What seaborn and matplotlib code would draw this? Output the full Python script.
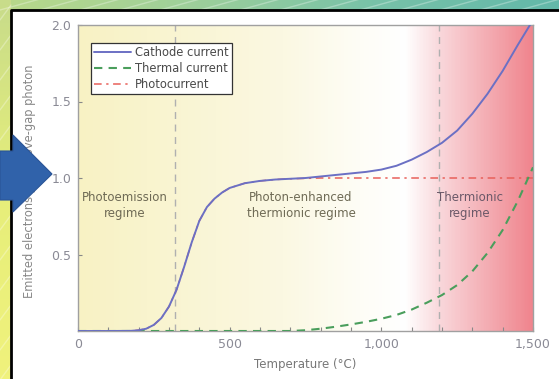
import numpy as np
import pandas as pd
import matplotlib
matplotlib.use("Agg")
import matplotlib.pyplot as plt
from matplotlib.patches import Polygon
from matplotlib.colors import LinearSegmentedColormap
import seaborn as sns

# ---- data ----
temps = [0, 100, 175, 200, 225, 250, 275, 300, 325, 350, 375, 400, 425, 450, 475, 500,
         550, 600, 650, 700, 750, 800, 850, 900, 950, 1000, 1050, 1100, 1150, 1200,
         1250, 1300, 1350, 1400, 1450, 1490]
cathode = [0.0, 0.0, 0.001, 0.005, 0.015, 0.04, 0.085, 0.16, 0.27, 0.42, 0.58, 0.72,
           0.81, 0.865, 0.905, 0.935, 0.966, 0.981, 0.99, 0.995, 1.0, 1.01, 1.02,
           1.03, 1.04, 1.055, 1.08, 1.12, 1.17, 1.23, 1.31, 1.42, 1.55, 1.70, 1.87, 2.0]

therm_temps = [0, 100, 200, 300, 400, 500, 600, 700, 750, 800, 850, 900, 950, 1000,
               1050, 1100, 1150, 1200, 1250, 1300, 1350, 1400, 1450, 1500]
thermal = [0, 0, 0, 0, 0, 0, 0, 0, 0.005, 0.015, 0.028, 0.043, 0.06, 0.08, 0.105,
           0.14, 0.185, 0.235, 0.30, 0.39, 0.51, 0.66, 0.85, 1.07]

photo_temps = [0, 100, 175, 200, 225, 250, 275, 300, 325, 350, 375, 400, 425, 450,
               475, 500, 550, 600, 650, 700, 800, 1000, 1200, 1400, 1500]
photo = [0.0, 0.0, 0.001, 0.005, 0.015, 0.04, 0.085, 0.16, 0.27, 0.42, 0.58, 0.72,
         0.81, 0.865, 0.905, 0.935, 0.966, 0.981, 0.99, 0.995, 1.0, 1.0, 1.0, 1.0, 1.0]

regime_bounds = [320, 1190]
regime_labels = ["Photoemission\nregime", "Photon-enhanced\nthermionic regime",
                 "Thermionic\nregime"]
regime_x = [155, 735, 1292]
x_ticks = [0, 500, 1000, 1500]
x_ticklabels = ["0", "500", "1,000", "1,500"]
y_ticks = [0.5, 1.0, 1.5, 2.0]
y_ticklabels = ["0.5", "1.0", "1.5", "2.0"]

sns.set_style("white")
plt.rcParams['font.family'] = ['DejaVu Sans']

W, H = 559, 379
fig = plt.figure(figsize=(W / 100, H / 100), dpi=100)

# ---- slide background ----
bg = fig.add_axes([0, 0, 1, 1], zorder=-5)
bg.axis("off")
top_cmap = LinearSegmentedColormap.from_list("top", ["#b9d98a", "#9fd09a", "#78c2a8", "#63b8aa"])
bg.imshow(np.linspace(0, 1, 200)[None, :], cmap=top_cmap, extent=[0, W, 10, 0],
          aspect="auto", zorder=1)
left_cmap = LinearSegmentedColormap.from_list("left", ["#c8dc8a", "#e6ee7a", "#f0f27c"])
bg.imshow(np.linspace(0, 1, 100)[:, None], cmap=left_cmap, extent=[0, 11, H, 0],
          aspect="auto", zorder=1)
for k in range(-20, 60, 4):
    bg.plot([k * 10, k * 10 + 40], [10, -1], color="white", alpha=0.3, lw=1, zorder=2)
for k in range(0, 40, 3):
    bg.plot([0, 11], [k * 10 + 20, k * 10 + 5], color="white", alpha=0.3, lw=1, zorder=2)
bg.plot([11, 11, W], [H, 10, 10], color="black", lw=2, zorder=3)
bg.set_xlim(0, W)
bg.set_ylim(H, 0)

# ---- main axes ----
ax = fig.add_axes([78 / W, 1 - 331 / H, (533 - 78) / W, (331 - 25) / H])

grad_cmap = LinearSegmentedColormap.from_list(
    "grad",
    [(0.0, "#f8f2c4"), (0.45, "#fbf8e2"), (0.62, "#fefdf6"), (0.72, "#ffffff"),
     (0.80, "#f9d6da"), (0.9, "#f4aeb4"), (1.0, "#f0858e")])
ax.imshow(np.linspace(0, 1, 400)[None, :], cmap=grad_cmap, extent=[0, 1500, 0, 2.0],
          aspect="auto", zorder=0)

for xb in regime_bounds:
    ax.axvline(xb, color="#b0b0b0", lw=1, ls=(0, (5, 4)), zorder=1)

sns.lineplot(x=photo_temps, y=photo, ax=ax, color="#e8605a", lw=1.1,
             label="Photocurrent", zorder=2)
sns.lineplot(x=therm_temps, y=thermal, ax=ax, color="#4a9e5c", lw=1.5,
             label="Thermal current", zorder=3)
sns.lineplot(x=temps, y=cathode, ax=ax, color="#6b70c4", lw=1.4,
             label="Cathode current", zorder=4)
lines = ax.get_lines()
lines[-3].set_dashes([5, 3, 1.5, 3])
lines[-2].set_dashes([4, 3])

ax.set_xlim(0, 1500)
ax.set_ylim(0, 2.0)

h, l = ax.get_legend_handles_labels()
order = [l.index("Cathode current"), l.index("Thermal current"), l.index("Photocurrent")]
leg = ax.legend([h[i] for i in order], [l[i] for i in order], loc="upper left",
                bbox_to_anchor=(0.028, 0.942), borderaxespad=0, fontsize=8.3,
                frameon=True, fancybox=False, handlelength=3.2, handletextpad=0.3,
                labelspacing=0.25, borderpad=0.3, labelcolor="#4a4a4a")
leg.get_frame().set_edgecolor("#333333")
leg.get_frame().set_linewidth(0.9)
leg.get_frame().set_facecolor("white")
leg.get_frame().set_alpha(1)

colors = ["#6e6a55", "#6e6a55", "#6a5868"]
for lab, xx, cc in zip(regime_labels, regime_x, colors):
    ax.text(xx, 0.82, lab, ha="center", va="center", fontsize=8.5, color=cc,
            linespacing=1.35, zorder=5)

ax.set_xticks(x_ticks)
ax.set_xticklabels(x_ticklabels)
ax.set_xticks(range(0, 1501, 100), minor=True)
ax.set_yticks(y_ticks)
ax.set_yticklabels(y_ticklabels)
ax.tick_params(axis="both", which="major", direction="in", length=3, width=0.8,
               color="#888888", labelsize=9, labelcolor="#8a8a95", pad=5)
ax.tick_params(axis="x", which="minor", direction="in", length=3, width=0.8,
               color="#888888", bottom=True)
ax.tick_params(axis="x", which="both", bottom=True, top=False)
ax.tick_params(axis="y", which="both", left=True, right=False)
for s in ax.spines.values():
    s.set_color("#a0a0a0")
    s.set_linewidth(1.0)

ax.set_xlabel("Temperature (°C)", fontsize=8.5, color="#777777", labelpad=5)
ax.set_ylabel("Emitted electrons per above-gap photon", fontsize=8.3, color="#888888")
ax.yaxis.set_label_coords(-0.092, 0.49)

# ---- blue arrow overlay ----
ov = fig.add_axes([0, 0, 1, 1], zorder=10)
ov.set_xlim(0, W)
ov.set_ylim(H, 0)
ov.axis("off")
ov.patch.set_alpha(0)
arrow = Polygon([(0, 151), (13, 151), (13, 135), (52, 174), (13, 212), (13, 200), (0, 200)],
                closed=True, facecolor="#3062aa", edgecolor="#2a5597", lw=0.8)
ov.add_patch(arrow)

fig.savefig("out.png", dpi=100)
